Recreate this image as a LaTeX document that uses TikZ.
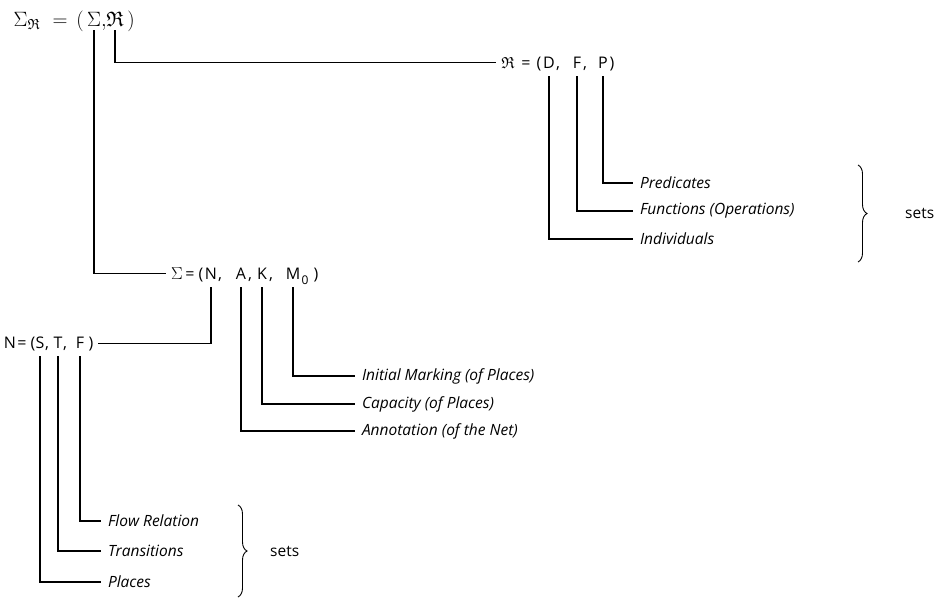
\documentclass[tikz,border=0pt]{standalone}
\usepackage{amssymb}
\usepackage{fontspec}
\setmainfont{Open Sans}
\usetikzlibrary{decorations.pathreplacing}
\begin{document}
\begin{tikzpicture}[x=1pt,y=-1pt,
  tl/.style={inner sep=0pt, outer ysep=4pt, outer xsep=4pt, anchor=base, font=\fontsize{21}{23}\selectfont},
  ltr/.style={inner sep=0pt, outer ysep=8pt, outer xsep=5pt, anchor=base, font=\fontsize{16}{18}\selectfont},
  lab/.style={inner sep=0pt, outer xsep=7pt, anchor=west, font=\fontsize{15.5}{17}\selectfont\itshape},
  txt/.style={inner sep=0pt, anchor=west, font=\fontsize{15.5}{17}\selectfont},
  conn/.style={draw, line width=1.1pt},
  brc/.style={decorate, decoration={brace, amplitude=9pt, aspect=0.5}, line width=0.9pt}]
\useasboundingbox (0,0) rectangle (941,597);
% ---- title
\node[tl] (t1) at (27,26) {$\Sigma_{\mathfrak{R}}$};
\node[tl] (t2) at (60,26) {$=$};
\node[tl] (t3) at (80,26) {$($};
\node[tl] (tS) at (94,26) {$\Sigma$};
\node[tl] (t5) at (104,26) {$,$};
\node[tl] (tR) at (115,26) {$\mathfrak{R}$};
\node[tl] (t7) at (131,26) {$)$};
% ---- R tuple
\node[ltr] (r1) at (508,68) {$\mathfrak{R}$};
\node[ltr] (r2) at (526,68) {=};
\node[ltr] (r3) at (539,68) {(};
\node[ltr] (rD) at (549,68) {D};
\node[ltr] (r5) at (558,68) {,};
\node[ltr] (rF) at (577,68) {F};
\node[ltr] (r7) at (585,68) {,};
\node[ltr] (rP) at (603,68) {P};
\node[ltr] (r9) at (612,68) {)};
\draw[conn] (tR.south) |- (r1.west);
\node[lab] (pred) at (633,183) {Predicates};
\node[lab] (func) at (633,211) {Functions (Operations)};
\node[lab] (indiv) at (633,239) {Individuals};
\draw[conn] (rP.south) |- (pred.west);
\draw[conn] (rF.south) |- (func.west);
\draw[conn] (rD.south) |- (indiv.west);
\draw[brc] (858,165) -- (858,262);
\node[txt] (sets1) at (905,213) {sets};
% ---- Sigma tuple
\node[ltr] (s1) at (177,279) {$\Sigma$};
\node[ltr] (s2) at (190,279) {=};
\node[ltr] (s3) at (201,279) {(};
\node[ltr] (sN) at (211,279) {N};
\node[ltr] (s5) at (220,279) {,};
\node[ltr] (sA) at (241,279) {A};
\node[ltr] (s7) at (250,279) {,};
\node[ltr] (sK) at (262,279) {K};
\node[ltr] (s9) at (271,279) {,};
\node[ltr] (sM) at (293,279) {M};
\node[ltr, font=\fontsize{12}{14}\selectfont] (s0) at (305,284) {0};
\node[ltr] (s12) at (316,279) {)};
\draw[conn] (tS.south) |- (s1.west);
\node[lab] (init) at (355,376) {Initial Marking (of Places)};
\node[lab] (cap) at (355,404) {Capacity (of Places)};
\node[lab] (ann) at (355,431) {Annotation (of the Net)};
\draw[conn] (sM.south) |- (init.west);
\draw[conn] (sK.south) |- (cap.west);
\draw[conn] (sA.south) |- (ann.west);
% ---- Net tuple
\node[ltr] (n1) at (10,348) {N};
\node[ltr] (n2) at (22,348) {=};
\node[ltr] (n3) at (33,348) {(};
\node[ltr] (nS) at (40,348) {S};
\node[ltr] (n5) at (47,348) {,};
\node[ltr] (nT) at (58,348) {T};
\node[ltr] (n7) at (65,348) {,};
\node[ltr] (nF) at (80,348) {F};
\node[ltr] (n9) at (91,348) {)};
\draw[conn] (sN.south) |- (n9.east);
\node[lab] (flow) at (101,521) {Flow Relation};
\node[lab] (trans) at (101,551) {Transitions};
\node[lab] (place) at (101,582) {Places};
\draw[conn] (nF.south) |- (flow.west);
\draw[conn] (nT.south) |- (trans.west);
\draw[conn] (nS.south) |- (place.west);
\draw[brc] (238,505) -- (238,597);
\node[txt] (sets2) at (270,551) {sets};
\end{tikzpicture}
\end{document}
